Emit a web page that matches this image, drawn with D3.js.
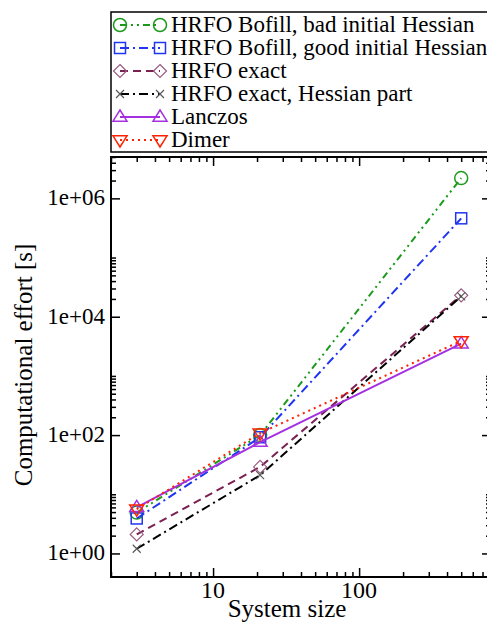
<!DOCTYPE html>
<html>
<head>
<meta charset="utf-8">
<script src="https://cdn.jsdelivr.net/npm/d3@7"></script>
<style>
  body { margin: 0; background: #fff; }
  svg { display: block; }
</style>
</head>
<body>
<svg id="chart" width="487" height="623"></svg>
<script>
// system sizes
var sizes = [3, 21, 500];

// computational effort [s] per method
var bofillBad = [4.9, 100, 2.2e6];
var bofillGood = [3.9, 92, 4.6e5];
var hrfoExact = [2.1, 29, 2.3e4];
var hrfoHessian = [1.2, 21, 2.2e4];
var lanczos = [6.0, 76, 3.5e3];
var dimer = [5.6, 108, 3.9e3];

var seriesNames = ["HRFO Bofill, bad initial Hessian", "HRFO Bofill, good initial Hessian",
  "HRFO exact", "HRFO exact, Hessian part", "Lanczos", "Dimer"];

var yMajor = [1, 100, 1e4, 1e6];
var yLabels = ["1e+00", "1e+02", "1e+04", "1e+06"];
var xMajor = [10, 100];
var xLabels = ["10", "100"];

var FONT = "'Liberation Serif'";

var styles = [
  {color: '#1c9a1c', dash: '7,4,2,4,2,4', marker: 'circle'},
  {color: '#2035f0', dash: '9,4,2,4', marker: 'square'},
  {color: '#7a2052', dash: '8,5', marker: 'diamond', mcolor: '#9a5a80'},
  {color: '#000000', dash: '9,4,2,4', marker: 'cross', mcolor: '#555555'},
  {color: '#a530e0', dash: null, marker: 'up'},
  {color: '#ff2200', dash: '2,4', marker: 'down'}
];

var data = [bofillBad, bofillGood, hrfoExact, hrfoHessian, lanczos, dimer];

var L = 111, R = 491, T = 157, B = 577;
var svg = d3.select('#chart');

var x = d3.scaleLog().domain([2, 800]).range([L, R]);
var y = d3.scaleLog().domain([0.4, 5e6]).range([B, T]);

// xmgrace style minor ticks: k*major, k=2..9 for x, k=2..10 for y
var xMinor = [];
[1, 10, 100].forEach(function(m){
  for (var k = 2; k <= 9; k++){
    var v = k*m;
    if (v >= 2 && v <= 800) xMinor.push(v);
  }
});
var yMinor = [];
[1, 100, 1e4, 1e6].forEach(function(m){
  for (var k = 2; k <= 10; k++){
    var v = k*m;
    if (v >= 0.4 && v <= 5e6) yMinor.push(v);
  }
});

function drawMarker(g, type, cx, cy, color){
  var s;
  if (type == 'circle'){
    g.append('circle').attr('cx', cx).attr('cy', cy).attr('r', 6.5)
      .attr('fill', 'none').attr('stroke', color).attr('stroke-width', 1.5);
  } else if (type == 'square'){
    s = 5.5;
    g.append('rect').attr('x', cx-s).attr('y', cy-s).attr('width', 2*s).attr('height', 2*s)
      .attr('fill', 'none').attr('stroke', color).attr('stroke-width', 1.5);
  } else if (type == 'diamond'){
    s = 6.5;
    g.append('path').attr('d', 'M'+cx+','+(cy-s)+'L'+(cx+s)+','+cy+'L'+cx+','+(cy+s)+'L'+(cx-s)+','+cy+'Z')
      .attr('fill', 'none').attr('stroke', color).attr('stroke-width', 1.2);
  } else if (type == 'cross'){
    s = 4;
    g.append('path').attr('d', 'M'+(cx-s)+','+(cy-s)+'L'+(cx+s)+','+(cy+s)+'M'+(cx-s)+','+(cy+s)+'L'+(cx+s)+','+(cy-s))
      .attr('fill', 'none').attr('stroke', color).attr('stroke-width', 1.1);
  } else if (type == 'up'){
    s = 7;
    g.append('path').attr('d', 'M'+cx+','+(cy-s)+'L'+(cx+s)+','+(cy+s*0.6)+'L'+(cx-s)+','+(cy+s*0.6)+'Z')
      .attr('fill', 'none').attr('stroke', color).attr('stroke-width', 1.5);
  } else if (type == 'down'){
    s = 7;
    g.append('path').attr('d', 'M'+cx+','+(cy+s)+'L'+(cx+s)+','+(cy-s*0.6)+'L'+(cx-s)+','+(cy-s*0.6)+'Z')
      .attr('fill', 'none').attr('stroke', color).attr('stroke-width', 1.5);
  }
}

// axes, ticks pointing inward
function tickAxis(axisFn, scale, vals, size, tr){
  svg.append('g')
    .attr('transform', tr)
    .call(axisFn(scale).tickValues(vals).tickSize(size).tickFormat(''))
    .call(function(g){
      g.select('.domain').remove();
      g.selectAll('line').attr('stroke', '#000').attr('stroke-width', 1.5);
    });
}
tickAxis(d3.axisBottom, x, xMajor, -9, 'translate(0,' + B + ')');
tickAxis(d3.axisBottom, x, xMinor, -5, 'translate(0,' + B + ')');
tickAxis(d3.axisTop, x, xMajor, -9, 'translate(0,' + T + ')');
tickAxis(d3.axisTop, x, xMinor, -5, 'translate(0,' + T + ')');
tickAxis(d3.axisLeft, y, yMajor, -9, 'translate(' + L + ',0)');
tickAxis(d3.axisLeft, y, yMinor, -5, 'translate(' + L + ',0)');
tickAxis(d3.axisRight, y, yMajor, -9, 'translate(' + R + ',0)');
tickAxis(d3.axisRight, y, yMinor, -5, 'translate(' + R + ',0)');

svg.append('rect')
  .attr('x', L).attr('y', T).attr('width', R-L).attr('height', B-T)
  .attr('fill', 'none').attr('stroke', '#000').attr('stroke-width', 2);

svg.selectAll('.ylab')
  .data(yMajor)
  .enter()
  .append('text')
  .attr('class', 'ylab')
  .attr('x', L-6)
  .attr('y', d=>y(d)+7)
  .attr('text-anchor', 'end')
  .attr('font-family', FONT)
  .attr('font-size', 23)
  .text((d,i)=>yLabels[i]);

svg.selectAll('.xlab')
  .data(xMajor)
  .enter()
  .append('text')
  .attr('class', 'xlab')
  .attr('x', d=>x(d))
  .attr('y', 598)
  .attr('text-anchor', 'middle')
  .attr('font-family', FONT)
  .attr('font-size', 24)
  .text((d,i)=>xLabels[i]);

svg.append('text')
  .attr('x', 287).attr('y', 617)
  .attr('text-anchor', 'middle')
  .attr('font-family', FONT)
  .attr('font-size', 25)
  .text('System size');

svg.append('text')
  .attr('transform', 'translate(32,365) rotate(-90)')
  .attr('text-anchor', 'middle')
  .attr('font-family', FONT)
  .attr('font-size', 25)
  .text('Computational effort [s]');

// series
var line = d3.line()
  .x(d=>x(d[0]))
  .y(d=>y(d[1]));

var plot = svg.append('g');
data.forEach(function(vals, i){
  var st = styles[i];
  var pts = sizes.map((s, j)=>[s, vals[j]]);
  plot.append('path')
    .datum(pts)
    .attr('d', line)
    .attr('fill', 'none')
    .attr('stroke', st.color)
    .attr('stroke-width', 2)
    .attr('stroke-dasharray', st.dash);
  pts.forEach(function(p){
    drawMarker(plot, st.marker, x(p[0]), y(p[1]), st.mcolor || st.color);
  });
});

// legend
var leg = svg.append('g');
leg.append('rect')
  .attr('x', 111).attr('y', 12).attr('width', 400).attr('height', 140)
  .attr('fill', '#fff').attr('stroke', '#000').attr('stroke-width', 1.5);

var rowY = d3.scaleLinear().domain([0, 5]).range([25, 140]);
seriesNames.forEach(function(name, i){
  var st = styles[i];
  var cy = rowY(i);
  leg.append('line')
    .attr('x1', 120).attr('x2', 160)
    .attr('y1', cy).attr('y2', cy)
    .attr('stroke', st.color)
    .attr('stroke-width', 2)
    .attr('stroke-dasharray', st.dash);
  drawMarker(leg, st.marker, 120, cy, st.mcolor || st.color);
  drawMarker(leg, st.marker, 160, cy, st.mcolor || st.color);
  leg.append('text')
    .attr('x', 171)
    .attr('y', cy+7)
    .attr('font-family', FONT)
    .attr('font-size', 23)
    .text(name);
});
</script>
</body>
</html>
